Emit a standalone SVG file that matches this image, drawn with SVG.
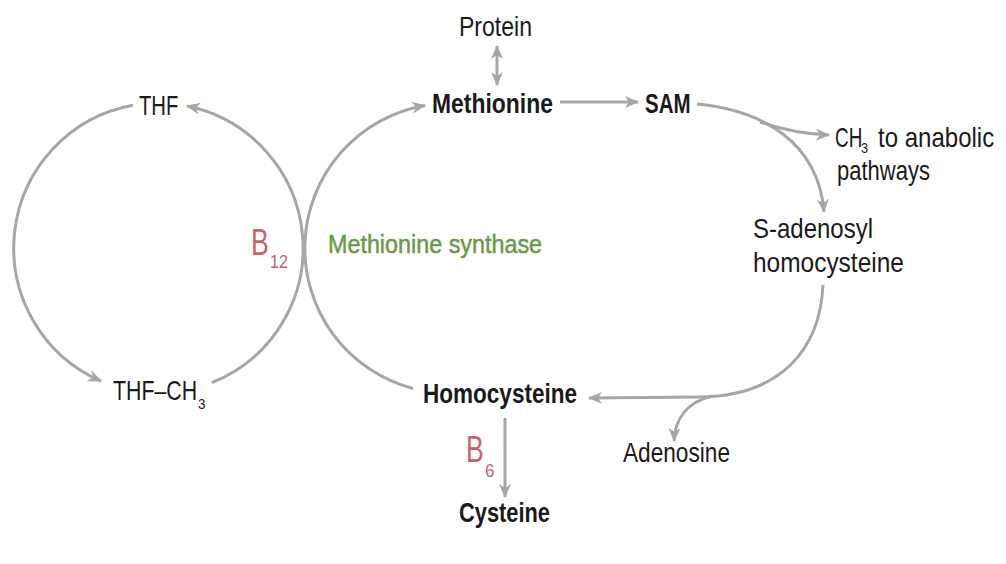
<svg xmlns="http://www.w3.org/2000/svg" width="1006" height="564" viewBox="0 0 1006 564">
<style>
.ln{fill:none;stroke:#a6a6a6;stroke-width:3}
.arr{marker-end:url(#ah)}
.t{font-family:"Liberation Sans",Arial,sans-serif;font-size:27px;fill:#1a1a1a}
.s{font-family:"Liberation Sans",Arial,sans-serif;font-size:15px;fill:#1a1a1a}
.b{font-weight:bold}
.vit{font-family:"Liberation Sans",Arial,sans-serif;fill:#c4656e}
.enz{font-family:"Liberation Sans",Arial,sans-serif;font-size:25px;fill:#6a9a47;stroke:#6a9a47;stroke-width:0.5}
</style>
<defs>
<marker id="ah" markerUnits="userSpaceOnUse" markerWidth="16" markerHeight="14" refX="13" refY="6" orient="auto-start-reverse" viewBox="0 0 16 14">
<path d="M0,0 L14,6 L0,12 L4,6 z" fill="#a6a6a6"/>
</marker>
</defs>
<rect width="1006" height="564" fill="#ffffff"/>
<g id="connectors">
<path class="ln arr" d="M133,105.3 A145,145 0 0 0 101,381"/>
<path class="ln arr" d="M212,382.7 A145,145 0 0 0 187,106"/>
<path class="ln arr" d="M413,388.5 A145,145 0 0 1 425,105.4"/>
<path class="ln" d="M497,46 L497,85" marker-start="url(#ah)" marker-end="url(#ah)"/>
<path class="ln arr" d="M560,102 L638,102"/>
<path class="ln arr" d="M697,104 C760,110 818,140 824,212"/>
<path class="ln arr" d="M760,122 Q795,134 829,135"/>
<path class="ln arr" d="M823,285 C820,350 780,396 700,397 L589,398"/>
<path class="ln arr" d="M712,396 C688,402 675,418 674,441"/>
<path class="ln arr" d="M505,418 L505,497"/>
</g>
<g id="protein"><text class="t" transform="translate(459,36) scale(0.854,1)">Protein</text></g>
<g id="methionine"><text class="t b" transform="translate(432,113) scale(0.849,1)">Methionine</text></g>
<g id="sam"><text class="t b" transform="translate(645,113) scale(0.76,1)">SAM</text></g>
<g id="ch3">
<text class="t" transform="translate(835,147) scale(0.7,1)">CH</text>
<text class="s" font-size="13" transform="translate(861,153) scale(0.85,1)">3</text>
<text class="t" transform="translate(878,147) scale(0.89,1)">to anabolic</text>
<text class="t" transform="translate(837,180) scale(0.815,1)">pathways</text></g>
<g id="sah"><text class="t" transform="translate(753,238) scale(0.889,1)">S-adenosyl</text>
<text class="t" transform="translate(753,272) scale(0.906,1)">homocysteine</text></g>
<g id="homocysteine"><text class="t b" transform="translate(423,403) scale(0.835,1)">Homocysteine</text></g>
<g id="adenosine"><text class="t" transform="translate(623,462) scale(0.839,1)">Adenosine</text></g>
<g id="cysteine"><text class="t b" transform="translate(459,522) scale(0.809,1)">Cysteine</text></g>
<g id="thf"><text class="t" transform="translate(139,115) scale(0.75,1)">THF</text></g>
<g id="thf-ch3">
<text class="t" transform="translate(113,400) scale(0.79,1)">THF–CH</text>
<text class="s" transform="translate(198,409) scale(0.9,1)">3</text></g>
<g id="b12"><text class="vit" font-size="37" transform="translate(251,255) scale(0.72,1)">B</text>
<text class="vit" font-size="19" transform="translate(270,268) scale(0.85,1)">12</text></g>
<g id="methionine-synthase"><text class="enz" transform="translate(328,253) scale(0.934,1)">Methionine synthase</text></g>
<g id="b6"><text class="vit" font-size="37" transform="translate(466,462) scale(0.72,1)">B</text>
<text class="vit" font-size="19" transform="translate(485,477) scale(0.9,1)">6</text></g>
</svg>
